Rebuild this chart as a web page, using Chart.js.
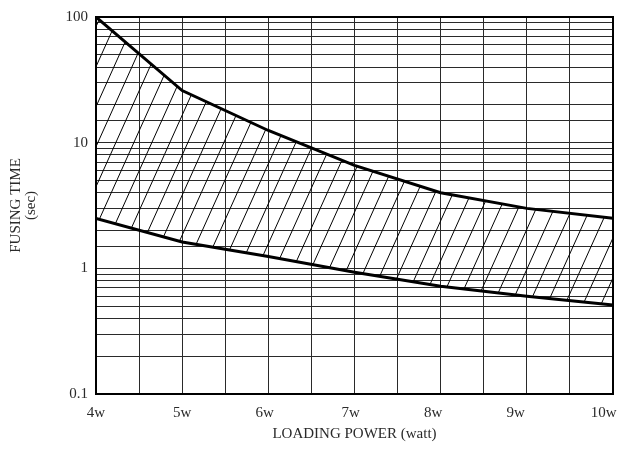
<!DOCTYPE html>
<html><head><meta charset="utf-8">
<script src="https://cdn.jsdelivr.net/npm/chart.js@4/dist/chart.umd.min.js"></script>
<style>html,body{margin:0;padding:0;background:#fff}#wrap{width:617px;height:461px}</style>
</head><body><div id="wrap"><canvas id="c" width="617" height="461"></canvas></div>
<script>
const power = [4, 5, 6, 7, 8, 9, 10];
const upperTime = [100, 26, 12.5, 6.6, 4.0, 3.0, 2.5];
const lowerTime = [2.5, 1.62, 1.24, 0.93, 0.72, 0.6, 0.51];
const xTickLabels = {4:'4w', 5:'5w', 6:'6w  ', 7:'7w  ', 8:'8w    ', 9:'9w      ', 10:'10w     '};
const yTickLabels = {'-1':'0.1', '0':'1', '1':'10', '2':'100'};

function makeHatch(){
  const w = 18, h = 40;
  const pc = document.createElement('canvas');
  pc.width = w; pc.height = h;
  const g = pc.getContext('2d');
  g.strokeStyle = '#000'; g.lineWidth = 1;
  for (const o of [-w, 0, w]) {
    g.beginPath(); g.moveTo(o, h); g.lineTo(o + w, 0); g.stroke();
  }
  return g.createPattern(pc, 'repeat');
}
const hatch = makeHatch();
const font = 'Liberation Serif, Times New Roman, serif';
const txt = '#2a2a2a';

const frame = {
  id: 'frame',
  afterDraw(chart){
    const a = chart.chartArea, c = chart.ctx;
    c.save(); c.strokeStyle = '#000'; c.lineWidth = 2;
    c.strokeRect(a.left, a.top, a.right - a.left, a.bottom - a.top);
    c.restore();
  }
};

new Chart(document.getElementById('c'), {
  type: 'line',
  data: {
    datasets: [
      { data: power.map((x,i)=>({x, y: lowerTime[i]})), borderColor:'#000', borderWidth:3, pointRadius:0, tension:0, fill:false },
      { data: power.map((x,i)=>({x, y: upperTime[i]})), borderColor:'#000', borderWidth:3, pointRadius:0, tension:0, fill:'-1', backgroundColor: hatch }
    ]
  },
  options: {
    responsive: false, animation: false,
    layout: { padding: { top: 16, right: 4, left: 0, bottom: 0 } },
    plugins: { legend: { display: false }, tooltip: { enabled: false } },
    scales: {
      x: {
        type: 'linear', min: 4, max: 10,
        ticks: { stepSize: 0.5, autoSkip: false, maxRotation: 0, padding: 10, color: txt, font: { family: font, size: 15 },
          callback: v => (Number.isInteger(v) ? xTickLabels[v] : '') },
        grid: { color: '#2a2a2a', lineWidth: 1, drawTicks: false },
        border: { color: '#000', width: 2 },
        title: { display: true, text: 'LOADING POWER (watt)', color: txt, font: { family: font, size: 15 }, padding: { top: 0, bottom: 18 } },
        afterFit(s){ s.height = 67; s.paddingLeft = 0; s.paddingRight = 0; }
      },
      y: {
        type: 'logarithmic', min: 0.1, max: 100,
        ticks: { autoSkip: false, padding: 8, color: txt, font: { family: font, size: 15 },
          callback: v => { const l = Math.log10(v); const r = Math.round(l); return Math.abs(l - r) < 1e-9 ? yTickLabels[String(r)] : ''; } },
        grid: { color: '#2a2a2a', lineWidth: 1, drawTicks: false },
        border: { color: '#000', width: 2 },
        title: { display: true, text: ['FUSING TIME', '(sec)'], color: txt, font: { family: font, size: 15, lineHeight: 1.0 }, padding: { top: 9, bottom: 4 } },
        afterFit(s){ s.width = 96; }
      }
    }
  },
  plugins: [frame]
});
</script>
</body></html>
